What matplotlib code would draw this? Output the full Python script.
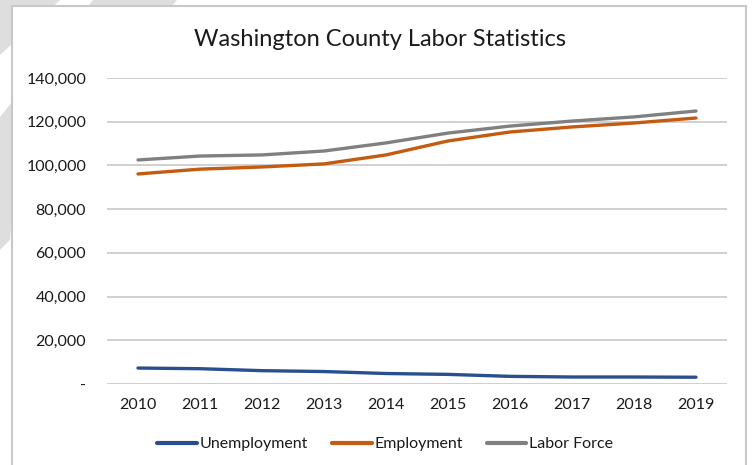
import matplotlib.pyplot as plt
import matplotlib.patches as patches
from matplotlib.ticker import FuncFormatter
from matplotlib.lines import Line2D

years = [2010, 2011, 2012, 2013, 2014, 2015, 2016, 2017, 2018, 2019]
unemployment = [7300, 7000, 6100, 5700, 4800, 4400, 3500, 3200, 3200, 3100]
employment = [96100, 98300, 99300, 100700, 104800, 111200, 115300, 117600, 119400, 121700]
labor_force = [102500, 104300, 104800, 106600, 110300, 114800, 118000, 120300, 122200, 124900]

series_names = ['Unemployment', 'Employment', 'Labor Force']
series_colors = ['#2A4F8F', '#C55A11', '#808080']
y_ticks = [0, 20000, 40000, 60000, 80000, 100000, 120000, 140000]

plt.rcParams['font.family'] = ['Lato', 'DejaVu Sans']

W, H = 753, 465
fig = plt.figure(figsize=(W / 100, H / 100), dpi=100)
fig.patch.set_facecolor('white')


def px(x, y):
    # pixel position (from top left) -> figure fraction
    return (x / W, 1 - y / H)


# light grey diagonal shapes behind the chart frame (screenshot background)
bands = [
    [(0, 0), (60, 0), (0, 55)],
    [(93, 0), (177, 0), (14, 190), (10, 240), (0, 250), (0, 117)],
]
for b in bands:
    fig.patches.append(patches.Polygon([px(x, y) for x, y in b], closed=True,
                                       transform=fig.transFigure, facecolor='#DEDEDE',
                                       edgecolor='none', zorder=0))

# chart frame
frame = patches.Rectangle(px(12, 480), (746 - 12) / W, (480 - 6) / H,
                          transform=fig.transFigure, facecolor='white',
                          edgecolor='#C8C8C8', linewidth=1.5, zorder=1)
fig.patches.append(frame)

ax = fig.add_axes([107 / W, 1 - 384 / H, (727 - 107) / W, (384 - 78) / H])
ax.set_facecolor('none')
ax.set_zorder(2)

x = list(range(len(years)))
for vals, name, col in zip([unemployment, employment, labor_force], series_names, series_colors):
    ax.plot(x, vals, color=col, linewidth=2.4, solid_capstyle='round', label=name, zorder=3)

ax.set_xlim(-0.5, len(years) - 0.5)
ax.set_ylim(0, 140000)
ax.set_yticks(y_ticks)
ax.yaxis.set_major_formatter(FuncFormatter(lambda v, p: '-' if v == 0 else f'{int(v):,}'))
ax.set_xticks(x)
ax.set_xticklabels([str(y) for y in years])
ax.grid(axis='y', color='#D0D0D0', linewidth=1.4, zorder=1)
ax.set_axisbelow(True)
for s in ax.spines.values():
    s.set_visible(False)
ax.tick_params(axis='both', length=0, labelsize=11.5, colors='#1A1A1A')
ax.tick_params(axis='y', pad=15)
ax.tick_params(axis='x', pad=10)

fig.text(380 / W, 1 - 40 / H, 'Washington County Labor Statistics', ha='center', va='center',
         fontsize=17, color='#1A1A1A', zorder=3)

handles = [Line2D([0], [0], color=c, linewidth=3, solid_capstyle='round') for c in series_colors]
leg = fig.legend(handles, series_names, loc='center', bbox_to_anchor=(385 / W, 1 - 444 / H),
                 ncol=3, frameon=False, fontsize=11.5, handlelength=2.5, handletextpad=0.15,
                 columnspacing=1.5)
for t in leg.get_texts():
    t.set_color('#1A1A1A')

fig.savefig('out.png', dpi=100)
